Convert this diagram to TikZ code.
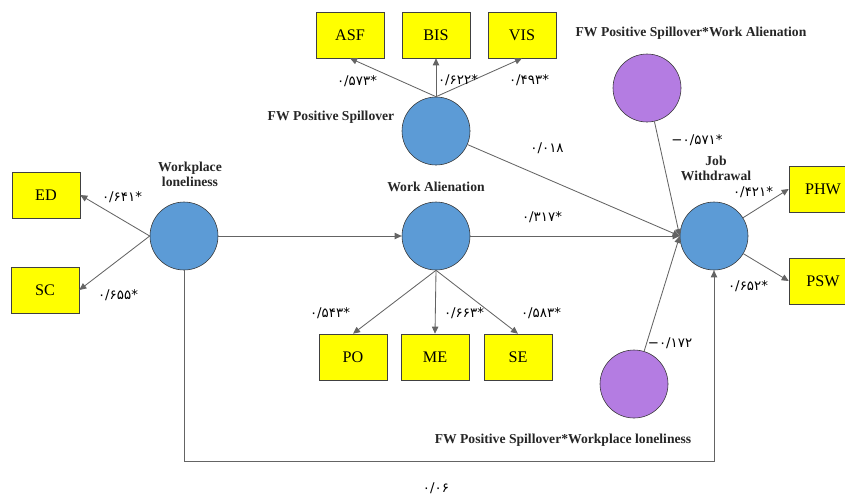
\documentclass[tikz,border=0pt]{standalone}
\usepackage{fontspec}
\setmainfont{Liberation Serif}
\newfontfamily\numfont{DejaVu Sans}
\usepackage{tikz}
\usetikzlibrary{arrows.meta}
\definecolor{boxyellow}{RGB}{255,255,0}
\definecolor{latblue}{RGB}{92,155,214}
\definecolor{modpurple}{RGB}{180,124,226}
\definecolor{edgegray}{RGB}{100,100,100}

\begin{document}
\begin{tikzpicture}[x=0.025cm, y=-0.025cm,
        box/.style={rectangle, draw=black!75, fill=boxyellow, minimum width=1.7cm, minimum height=1.15cm, inner sep=0pt, font=\fontsize{11.5}{13}\selectfont},
        latent/.style={circle, draw=black!80, fill=latblue, minimum size=1.7cm, inner sep=0pt},
        moder/.style={latent, fill=modpurple},
        lbl/.style={align=center, inner sep=0pt, text=black!85, font=\fontsize{9.7}{10.5}\selectfont\bfseries},
        coef/.style={inner sep=1pt, font=\numfont\fontsize{9.5}{11}\selectfont},
        arrow/.style={draw=edgegray, line width=0.6pt, -{Triangle[length=5pt,width=4.5pt]}}]
        \clip (0,0) rectangle (845,495);

        % Latent variables
        \node[latent] (WL) at (184,236) {};
        \node[latent] (FW) at (436,131) {};
        \node[latent] (WA) at (436,236) {};
        \node[latent] (JW) at (714,236) {};
        \node[moder] (FWWA) at (647,88) {};
        \node[moder] (FWWL) at (634,384) {};

        % Indicators
        \node[box] (ED) at (46,195) {ED};
        \node[box] (SC) at (45,290) {SC};
        \node[box] (ASF) at (350,35) {ASF};
        \node[box] (BIS) at (436,35) {BIS};
        \node[box] (VIS) at (522,35) {VIS};
        \node[box] (PO) at (353,357) {PO};
        \node[box] (ME) at (435,357) {ME};
        \node[box] (SE) at (518,357) {SE};
        \node[box] (PHW) at (823,189) {PHW};
        \node[box] (PSW) at (823,281) {PSW};

        % Names
        \node[lbl] (WLname) at (190,174) {Workplace\\loneliness};
        \node[lbl] (FWname) at (331,117) {FW Positive Spillover};
        \node[lbl] (WAname) at (436,187) {Work Alienation};
        \node[lbl] (JWname) at (716,168) {Job\\Withdrawal};
        \node[lbl] (FWWAname) at (691,33) {FW Positive Spillover*Work Alienation};
        \node[lbl] (FWWLname) at (563,440) {FW Positive Spillover*Workplace loneliness};

        % Bends of the direct path
        \coordinate (b1) at (184,461);
        \coordinate (b2) at (714,461);

        % Edges
        \draw[arrow] (WL.west) -- (ED.east);
        \draw[arrow] (WL.west) -- (SC.east);
        \draw[arrow] (FW.north) -- (ASF.south);
        \draw[arrow] (FW.north) -- (BIS.south);
        \draw[arrow] (FW.north) -- (VIS.south);
        \draw[arrow] (WA.south) -- (PO.north);
        \draw[arrow] (WA.south) -- (ME.north);
        \draw[arrow] (WA.south) -- (SE.north);
        \draw[arrow] (WL) -- (WA);
        \draw[arrow] (WA) -- (JW);
        \draw[arrow] (FW) -- (JW.west);
        \draw[arrow] (FWWA) -- (JW.west);
        \draw[arrow] (FWWL) -- (JW.west);
        \draw[arrow] (JW) -- (PHW.west);
        \draw[arrow] (JW) -- (PSW.west);
        \draw[arrow] (WL) -- (b1) -- (b2) -- (JW);

        % Coefficients
        \node[coef] (cED) at (122,197) {۰/۶۴۱*};
        \node[coef] (cSC) at (118,295) {۰/۶۵۵*};
        \node[coef] (cASF) at (357,81) {۰/۵۷۳*};
        \node[coef] (cBIS) at (458,80) {۰/۶۲۲*};
        \node[coef] (cVIS) at (529,80) {۰/۴۹۳*};
        \node[coef] (cFW) at (547,148) {۰/۰۱۸};
        \node[coef] (cWA) at (542,217) {۰/۳۱۷*};
        \node[coef] (cPO) at (330,313) {۰/۵۴۳*};
        \node[coef] (cME) at (464,313) {۰/۶۶۳*};
        \node[coef] (cSE) at (541,313) {۰/۵۸۳*};
        \node[coef] (cFWWA) at (697,140) {−۰/۵۷۱*};
        \node[coef] (cFWWL) at (670,343) {−۰/۱۷۲};
        \node[coef] (cPHW) at (753,192) {۰/۴۲۱*};
        \node[coef] (cPSW) at (748,286) {۰/۶۵۲*};
        \node[coef] (cWL) at (436,488) {۰/۰۶};
\end{tikzpicture}
\end{document}
